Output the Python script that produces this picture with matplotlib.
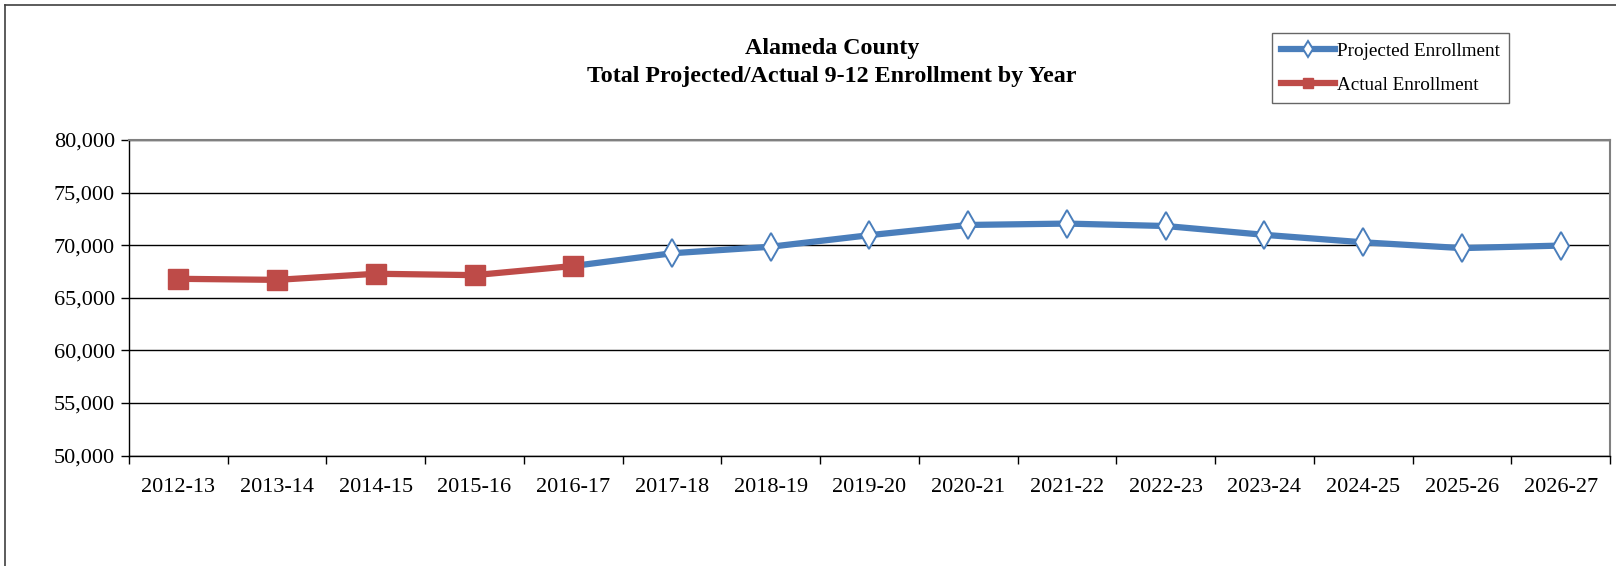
import numpy as np
import matplotlib
matplotlib.use('Agg')
import matplotlib.pyplot as plt
from matplotlib.ticker import FuncFormatter, FixedLocator

plt.rcParams['font.family'] = ['Liberation Serif', 'DejaVu Serif']

years = ['2012-13', '2013-14', '2014-15', '2015-16', '2016-17', '2017-18', '2018-19',
         '2019-20', '2020-21', '2021-22', '2022-23', '2023-24', '2024-25', '2025-26', '2026-27']
actual = [66800, 66700, 67280, 67150, 68020]
projected = [68020, 69230, 69850, 70950, 71920, 72050, 71820, 70980, 70270, 69720, 69960]
proj_start = 4

blue = '#4A7EBB'
red = '#BE4B48'

fig = plt.figure(figsize=(16.16, 5.66), dpi=100)
ax = fig.add_axes([0.0798, 0.1952, 0.9165, 0.5575])

x = np.arange(len(years))
ax.plot(x[proj_start:proj_start + len(projected)], projected, color=blue, lw=4.5,
        marker='d', ms=14, mfc='white', mec=blue, mew=1.4, markevery=list(range(1, len(projected))),
        label='Projected Enrollment', zorder=3)
ax.plot(x[:len(actual)], actual, color=red, lw=4.5, marker='s', ms=14,
        mfc=red, mec=red, label='Actual Enrollment', zorder=4)

ax.set_ylim(50000, 80000)
ax.set_xlim(-0.5, len(years) - 0.5)
ax.set_yticks(np.arange(50000, 80001, 5000))
ax.yaxis.set_major_formatter(FuncFormatter(lambda v, p: f'{int(v):,}'))
ax.yaxis.grid(True, color='black', lw=1)
ax.set_axisbelow(True)

ax.set_xticks(x)
ax.set_xticklabels(years)
ax.xaxis.set_minor_locator(FixedLocator(np.arange(-0.5, len(years), 1)))
ax.tick_params(axis='x', which='major', length=0, pad=16)
ax.tick_params(axis='x', which='minor', length=6, width=1, direction='out', color='black')
ax.tick_params(axis='y', length=6, width=1, direction='out', pad=4)
ax.tick_params(labelsize=16)

for s in ['top', 'right']:
    ax.spines[s].set_color('#808080')
    ax.spines[s].set_linewidth(1.5)
for s in ['left', 'bottom']:
    ax.spines[s].set_color('black')
    ax.spines[s].set_linewidth(1)

fig.text(0.515, 0.889, 'Alameda County\nTotal Projected/Actual 9-12 Enrollment by Year',
         ha='center', va='center', fontsize=17.3, fontweight='bold', linespacing=1.45)

leg = fig.legend(loc='upper left', bbox_to_anchor=(0.787, 0.942), borderaxespad=0,
                 fontsize=13.8, frameon=True, fancybox=False, edgecolor='#404040',
                 handlelength=2.8, handletextpad=0.1, borderpad=0.5, labelspacing=0.85,
                 markerscale=0.55)
leg.get_frame().set_linewidth(1)

# chart area border (left and top edges)
fig.add_artist(plt.Line2D([0.003, 0.003], [0, 0.992], color='#404040', lw=1.2, transform=fig.transFigure))
fig.add_artist(plt.Line2D([0.003, 1.0], [0.992, 0.992], color='#404040', lw=1.2, transform=fig.transFigure))

fig.savefig('out.png', dpi=100)
